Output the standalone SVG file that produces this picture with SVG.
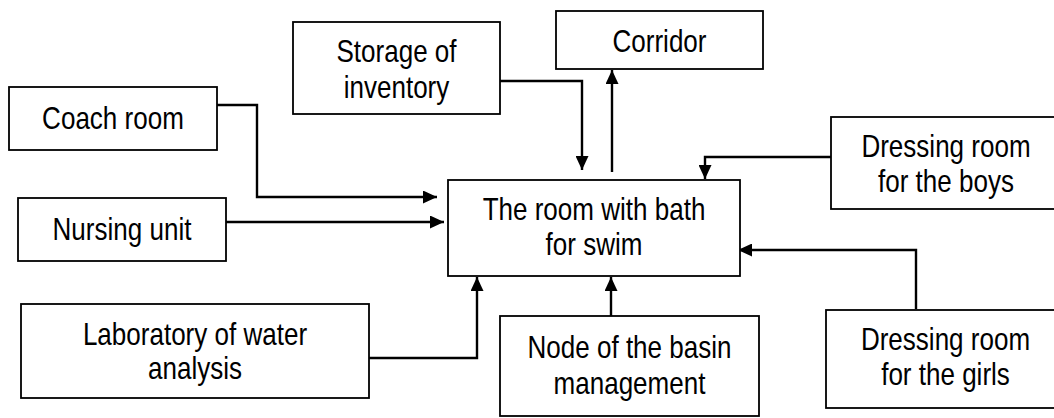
<svg xmlns="http://www.w3.org/2000/svg" width="1054" height="418" viewBox="0 0 1054 418">
<style>
.box{fill:#fff;stroke:#000;stroke-width:1.8}
.lbl{font-family:"Liberation Sans",Arial,sans-serif;font-size:31px;fill:#000;text-anchor:middle}
.con{fill:none;stroke:#000;stroke-width:2.4;marker-end:url(#ah)}
</style>
<defs>
<marker id="ah" markerUnits="userSpaceOnUse" markerWidth="15" markerHeight="13" refX="14" refY="6.5" orient="auto">
<path d="M0,0 L14,6.5 L0,13 Z" fill="#000"/>
</marker>
</defs>
<g id="connectors">
<path class="con" d="M217,105 H257 V197 H437"/>
<path class="con" d="M226,222 H444"/>
<path class="con" d="M500,81 H582 V170"/>
<path class="con" d="M612,172 V70"/>
<path class="con" d="M831,157 H705 V179"/>
<path class="con" d="M916,309 V250 H738"/>
<path class="con" d="M611,316 V277"/>
<path class="con" d="M369,358 H477 V277"/>
</g>
<g id="coach">
<rect class="box" x="9" y="87" width="208" height="63"/>
<text class="lbl" transform="translate(113 128.5) scale(0.84 1)">Coach room</text>
</g>
<g id="storage">
<rect class="box" x="293" y="22" width="207" height="92"/>
<text class="lbl" transform="translate(396.5 62) scale(0.84 1)"><tspan x="0">Storage of</tspan><tspan x="0" dy="36">inventory</tspan></text>
</g>
<g id="corridor">
<rect class="box" x="556" y="11" width="207" height="58"/>
<text class="lbl" transform="translate(659.5 51.5) scale(0.84 1)">Corridor</text>
</g>
<g id="boys">
<rect class="box" x="831" y="117" width="232" height="92"/>
<text class="lbl" transform="translate(946 156.5) scale(0.84 1)"><tspan x="0">Dressing room</tspan><tspan x="0" dy="36">for the boys</tspan></text>
</g>
<g id="central">
<rect class="box" x="448" y="180" width="292" height="96"/>
<text class="lbl" transform="translate(594 219.5) scale(0.84 1)"><tspan x="0">The room with bath</tspan><tspan x="0" dy="36">for swim</tspan></text>
</g>
<g id="nursing">
<rect class="box" x="18" y="198" width="208" height="63"/>
<text class="lbl" transform="translate(122 239.5) scale(0.84 1)">Nursing unit</text>
</g>
<g id="lab">
<rect class="box" x="21" y="304" width="348" height="94"/>
<text class="lbl" transform="translate(195 344.5) scale(0.84 1)"><tspan x="0">Laboratory of water</tspan><tspan x="0" dy="35">analysis</tspan></text>
</g>
<g id="basin">
<rect class="box" x="500" y="316" width="259" height="100"/>
<text class="lbl" transform="translate(629.5 358) scale(0.84 1)"><tspan x="0">Node of the basin</tspan><tspan x="0" dy="36">management</tspan></text>
</g>
<g id="girls">
<rect class="box" x="826" y="310" width="239" height="98"/>
<text class="lbl" transform="translate(945.5 349.5) scale(0.84 1)"><tspan x="0">Dressing room</tspan><tspan x="0" dy="36">for the girls</tspan></text>
</g>
</svg>
